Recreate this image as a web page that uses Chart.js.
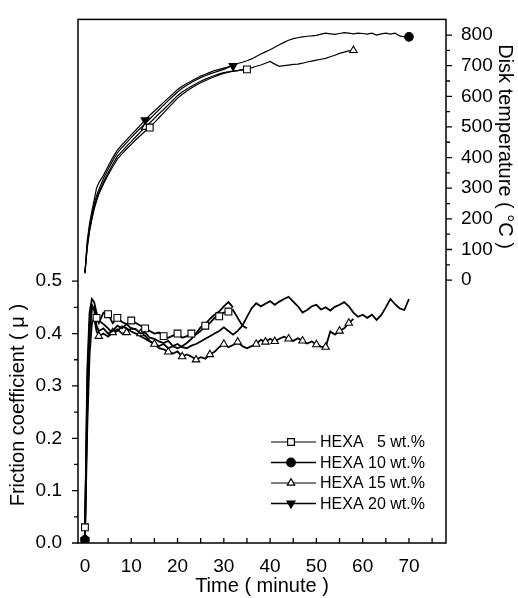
<!DOCTYPE html>
<html>
<head>
<meta charset="utf-8">
<script src="https://cdn.jsdelivr.net/npm/chart.js"></script>
<style>
  html, body { margin: 0; padding: 0; background: #fff; }
  canvas { display: block; }
</style>
</head>
<body>
<canvas id="myChart" width="518" height="598"></canvas>
<script>
// time grid (minutes), shared by all runs
var minutes = [0, 0.5, 1, 1.5, 2, 2.5, 3,
  4, 5, 6, 7, 8, 9, 10, 11, 12, 13, 14, 15, 16, 17, 18, 19, 20,
  21, 22, 23, 24, 25, 26, 27, 28, 29, 30, 31, 32, 33, 34, 35, 36, 37,
  38, 39, 40, 41, 42, 43, 44, 45, 46, 47, 48, 49, 50, 51, 52, 53, 54,
  55, 56, 57, 58, 59, 60, 61, 62, 63, 64, 65, 66, 67, 68, 69, 70];

var seriesLabels = ['HEXA   5 wt.%', 'HEXA 10 wt.%', 'HEXA 15 wt.%', 'HEXA 20 wt.%'];

// friction coefficient
var friction5 = [0.03, 0.26, 0.40, 0.445, 0.45, 0.43, 0.42,
  0.44, 0.437, 0.42, 0.43, 0.422, 0.418, 0.425, 0.42, 0.415, 0.41, 0.405, 0.40, 0.402, 0.395, 0.392, 0.396, 0.40,
  0.392, 0.395, 0.40, 0.398, 0.405, 0.415, 0.42, 0.43, 0.433, 0.44, 0.442, 0.445, 0.43, 0.415, 0.41];
var friction10 = [0.006, 0.30, 0.42, 0.455, 0.445, 0.415, 0.405,
  0.41, 0.40, 0.405, 0.415, 0.41, 0.418, 0.41, 0.408, 0.40, 0.402, 0.392, 0.39, 0.385, 0.382, 0.386, 0.376, 0.38,
  0.374, 0.372, 0.377, 0.38, 0.385, 0.39, 0.395, 0.40, 0.405, 0.412, 0.405, 0.398, 0.405, 0.415, 0.432, 0.448, 0.458,
  0.452, 0.457, 0.462, 0.455, 0.461, 0.466, 0.47, 0.461, 0.452, 0.44, 0.445, 0.452, 0.455, 0.446, 0.45, 0.444, 0.451,
  0.455, 0.46, 0.452, 0.44, 0.432, 0.436, 0.43, 0.436, 0.426, 0.435, 0.45, 0.466, 0.456, 0.448, 0.445, 0.466];
var friction15 = [0.006, 0.22, 0.36, 0.42, 0.43, 0.405, 0.395,
  0.40, 0.394, 0.402, 0.408, 0.40, 0.402, 0.41, 0.408, 0.40, 0.396, 0.386, 0.38, 0.372, 0.37, 0.365, 0.362, 0.366,
  0.356, 0.36, 0.356, 0.35, 0.355, 0.352, 0.36, 0.365, 0.374, 0.38, 0.374, 0.378, 0.384, 0.376, 0.372, 0.376, 0.38,
  0.388, 0.384, 0.39, 0.385, 0.39, 0.394, 0.39, 0.386, 0.391, 0.386, 0.381, 0.385, 0.379, 0.375, 0.374, 0.404, 0.398,
  0.405, 0.41, 0.42, 0.428];
var friction20 = [0.006, 0.33, 0.44, 0.466, 0.46, 0.44, 0.425,
  0.418, 0.41, 0.40, 0.405, 0.414, 0.41, 0.404, 0.40, 0.395, 0.39, 0.385, 0.38, 0.376, 0.38, 0.372, 0.376, 0.372,
  0.376, 0.382, 0.39, 0.40, 0.412, 0.418, 0.428, 0.436, 0.442, 0.452, 0.46, 0.45];

// disk temperature (deg C)
var temp5 = [25, 105, 160, 198, 232, 258, 280,
  314, 343, 370, 395, 412, 428, 443, 458, 472, 486, 498, 514, 530, 546, 562, 578, 594,
  606, 617, 627, 636, 644, 651, 658, 664, 670, 675, 679, 682, 684, 686, 688];
var temp10 = [22, 118, 172, 212, 248, 276, 296,
  332, 362, 390, 415, 433, 449, 465, 481, 496, 511, 526, 541, 556, 571, 586, 600, 614,
  626, 636, 645, 653, 661, 667, 673, 678, 683, 688, 695, 701, 707, 711, 716, 722, 730,
  738, 745, 752, 760, 768, 776, 783, 788, 791, 794, 796, 797, 799, 803, 806, 804, 802,
  805, 808, 806, 804, 806, 805, 803, 806, 800, 804, 806, 803, 806, 797, 794, 794];
var temp15 = [24, 112, 165, 203, 238, 265, 286,
  320, 350, 378, 404, 420, 437, 452, 468, 484, 499, 513, 528, 543, 557, 572, 587, 602,
  614, 624, 633, 641, 649, 656, 662, 668, 673, 677, 680, 682, 684, 687, 690, 693, 698,
  702, 708, 714, 705, 698, 700, 702, 704, 705, 708, 712, 715, 718, 721, 724, 729, 734,
  740, 744, 748, 750];
var temp20 = [25, 130, 185, 225, 262, 300, 318,
  342, 372, 400, 424, 442, 458, 474, 490, 506, 522, 538, 552, 566, 580, 594, 608, 622,
  633, 642, 650, 658, 666, 672, 678, 684, 688, 692, 696, 699];

// where the symbols sit (minutes)
var frictionMarks = [[0, 2.5, 5, 7, 10, 13, 17, 20, 23, 26, 29, 31], [0],
  [0, 3, 6, 9, 12, 15, 18, 21, 24, 27, 30, 33, 37, 39, 41, 44, 47, 50, 52, 55, 57], [0]];
var tempMarks = [[14, 35], [70], [13, 58], [13, 32]];

// axis ticks
var timeTicks = [0, 10, 20, 30, 40, 50, 60, 70];
var timeMinor = [5, 15, 25, 35, 45, 55, 65, 75];
var frictionTicks = [0, 0.1, 0.2, 0.3, 0.4, 0.5];
var frictionMinor = [0.05, 0.15, 0.25, 0.35, 0.45];
var tempTicks = [0, 100, 200, 300, 400, 500, 600, 700, 800];
var tempMinor = [50, 150, 250, 350, 450, 550, 650, 750];

var shapes = ['rect', 'circle', 'triangle', 'triangle'];
var rotations = [0, 0, 0, 180];
var fills = ['#fff', '#000', '#fff', '#000'];
var sizes = [4.8, 4.3, 4.3, 4.6];
var FONT = '"Liberation Sans", Arial, sans-serif';

function series(i, ys, marks, axis) {
  return {
    label: seriesLabels[i],
    yAxisID: axis,
    data: ys.map(function (y, k) { return { x: minutes[k], y: y }; }),
    borderColor: '#000',
    borderWidth: axis === 'y' ? 1.8 : 1.2,
    pointStyle: shapes[i],
    pointRotation: rotations[i],
    pointBackgroundColor: fills[i],
    pointBorderColor: '#000',
    pointBorderWidth: 1.1,
    pointRadius: function (c) {
      return c.raw && marks.indexOf(c.raw.x) >= 0 ? sizes[i] : 0;
    },
    pointHoverRadius: 0,
    tension: 0
  };
}

var frictionData = [friction5, friction10, friction15, friction20];
var tempData = [temp5, temp10, temp15, temp20];
var datasets = [];
frictionData.forEach(function (d, i) { datasets.push(series(i, d, frictionMarks[i], 'y')); });
tempData.forEach(function (d, i) { datasets.push(series(i, d, tempMarks[i], 'y2')); });

function setTicks(major, minor) {
  return function (scale) {
    scale.ticks = major.concat(minor).sort(function (a, b) { return a - b; })
      .map(function (v) { return { value: v }; });
  };
}

// box, tick marks, side titles and legend
var decor = {
  id: 'decor',
  afterDraw: function (chart) {
    var ctx = chart.ctx, a = chart.chartArea, s = chart.scales;
    ctx.save();
    ctx.strokeStyle = '#000';
    ctx.fillStyle = '#000';
    ctx.lineWidth = 1.5;
    ctx.strokeRect(a.left, a.top, a.right - a.left, a.bottom - a.top);

    ctx.lineWidth = 1.3;
    ctx.beginPath();
    timeTicks.concat(timeMinor).forEach(function (v) {
      var x = s.x.getPixelForValue(v);
      ctx.moveTo(x, a.bottom); ctx.lineTo(x, a.bottom - 5);
    });
    frictionTicks.forEach(function (v) {
      var y = s.y.getPixelForValue(v);
      ctx.moveTo(a.left, y); ctx.lineTo(a.left - 6, y);
    });
    frictionMinor.forEach(function (v) {
      var y = s.y.getPixelForValue(v);
      ctx.moveTo(a.left, y); ctx.lineTo(a.left - 4, y);
    });
    tempTicks.forEach(function (v) {
      var y = s.y2.getPixelForValue(v);
      ctx.moveTo(a.right, y); ctx.lineTo(a.right + 6, y);
    });
    tempMinor.forEach(function (v) {
      var y = s.y2.getPixelForValue(v);
      ctx.moveTo(a.right, y); ctx.lineTo(a.right + 4, y);
    });
    ctx.stroke();

    ctx.font = '20px ' + FONT;
    ctx.textAlign = 'center';
    ctx.textBaseline = 'middle';
    var ly = (s.y.getPixelForValue(0) + s.y.getPixelForValue(0.5)) / 2 - 7;
    ctx.save();
    ctx.translate(18, ly);
    ctx.rotate(-Math.PI / 2);
    ctx.fillText('Friction coefficient ( \u03bc )', 0, 0);
    ctx.restore();
    ctx.save();
    ctx.translate(505, s.y2.getPixelForValue(400) - 11);
    ctx.rotate(Math.PI / 2);
    ctx.fillText('Disk temperature ( \u00b0C )', 0, 0);
    ctx.restore();

    // legend
    ctx.font = '16px ' + FONT;
    ctx.textAlign = 'left';
    seriesLabels.forEach(function (lab, i) {
      var y = a.bottom - 101 + i * 20.5;
      ctx.lineWidth = (i % 2 === 0) ? 1 : 1.5;
      ctx.beginPath();
      ctx.moveTo(a.right - 175, y); ctx.lineTo(a.right - 130, y);
      ctx.stroke();
      ctx.fillStyle = fills[i];
      ctx.lineWidth = 1.2;
      Chart.helpers.drawPoint(ctx, {
        pointStyle: shapes[i], radius: sizes[i], rotation: rotations[i], borderWidth: 1.2
      }, a.right - 155, y);
      ctx.fillStyle = '#000';
      ctx.fillText(lab, a.right - 126, y + 1);
    });
    ctx.restore();
  }
};

var tickFont = { family: FONT, size: 19 };

new Chart(document.getElementById('myChart'), {
  type: 'line',
  data: { datasets: datasets },
  plugins: [decor],
  options: {
    responsive: false,
    animation: false,
    layout: { padding: { top: 9, left: 0, right: 0, bottom: 0 } },
    plugins: { legend: { display: false }, tooltip: { enabled: false } },
    scales: {
      x: {
        type: 'linear',
        position: 'bottom',
        min: -1.5,
        max: 78,
        afterBuildTicks: setTicks(timeTicks, timeMinor),
        afterFit: function (sc) { sc.height = 55; },
        grid: { display: false },
        border: { display: false },
        ticks: {
          autoSkip: false, maxRotation: 0, padding: 4, color: '#000', font: tickFont,
          callback: function (v) { return timeTicks.indexOf(v) >= 0 ? String(v) : ''; }
        },
        title: {
          display: true, text: 'Time ( minute )', color: '#000',
          font: { family: FONT, size: 20 }, padding: { top: 0, bottom: 0 }
        }
      },
      y: {
        type: 'linear',
        position: 'left',
        min: 0,
        max: 1.0,
        afterBuildTicks: setTicks(frictionTicks, frictionMinor),
        afterFit: function (sc) { sc.width = 78; },
        grid: { display: false },
        border: { display: false },
        ticks: {
          autoSkip: false, padding: 8, color: '#000', font: tickFont,
          callback: function (v) { return frictionTicks.indexOf(v) >= 0 ? v.toFixed(1) : ''; }
        }
      },
      y2: {
        type: 'linear',
        position: 'right',
        min: -858,
        max: 851,
        afterBuildTicks: setTicks(tempTicks, tempMinor),
        afterFit: function (sc) { sc.width = 72; },
        grid: { display: false },
        border: { display: false },
        ticks: {
          autoSkip: false, padding: 7, color: '#000', font: tickFont,
          callback: function (v) { return tempTicks.indexOf(v) >= 0 ? String(v) : ''; }
        }
      }
    }
  }
});
</script>
</body>
</html>
